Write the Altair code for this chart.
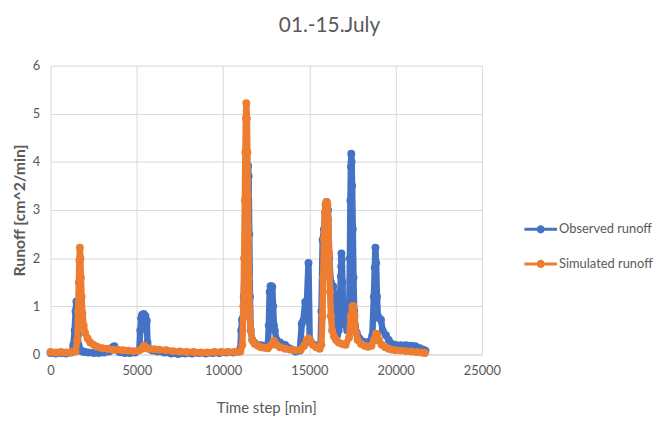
import altair as alt
import pandas as pd

# Observed runoff (time step [min], runoff [cm^2/min])
observed = [
    (0, 0.03), (300, 0.02), (600, 0.03), (900, 0.02), (1200, 0.04), (1320, 0.2),
    (1400, 0.5), (1450, 0.9), (1500, 1.1), (1540, 0.8), (1580, 0.4), (1620, 0.2),
    (1680, 0.12), (1750, 0.08), (1850, 0.06), (2000, 0.05), (2200, 0.04), (2500, 0.03),
    (2800, 0.03), (3100, 0.04), (3400, 0.06), (3600, 0.15), (3700, 0.17), (3800, 0.1),
    (4000, 0.05), (4300, 0.03), (4600, 0.03), (4900, 0.04), (5150, 0.1), (5200, 0.5),
    (5250, 0.75), (5300, 0.82), (5400, 0.84), (5500, 0.8), (5580, 0.7), (5620, 0.25),
    (5700, 0.12), (5900, 0.08), (6200, 0.06), (6600, 0.04), (7000, 0.02), (7400, 0.01),
    (7800, 0.02), (8200, 0.02), (8600, 0.03), (9000, 0.02), (9400, 0.03), (9800, 0.03),
    (10200, 0.04), (10600, 0.04), (10900, 0.06), (11000, 0.12), (11050, 0.5), (11100, 0.72),
    (11150, 0.75), (11200, 1.2), (11300, 2.5), (11400, 3.6), (11450, 3.92), (11480, 3.7),
    (11520, 2.5), (11560, 1.2), (11600, 0.5), (11700, 0.3), (11800, 0.25), (12000, 0.2),
    (12200, 0.19), (12400, 0.18), (12600, 0.2), (12650, 0.6), (12700, 1.3), (12750, 1.42),
    (12800, 1.42), (12850, 1.4), (12900, 1.0), (12950, 0.6), (13000, 0.5), (13100, 0.3),
    (13300, 0.25), (13600, 0.2), (13900, 0.12), (14200, 0.06), (14450, 0.08), (14560, 0.64),
    (14650, 0.7), (14760, 1.09), (14850, 1.0), (14950, 1.9), (15020, 0.3), (15100, 0.25),
    (15300, 0.2), (15500, 0.15), (15650, 0.2), (15700, 0.9), (15770, 2.38), (15850, 2.6),
    (15950, 3.1), (16000, 3.17), (16080, 3.0), (16150, 2.0), (16250, 1.5), (16380, 1.42),
    (16450, 1.2), (16530, 0.88), (16610, 0.4), (16700, 0.5), (16780, 1.2), (16830, 1.62),
    (16850, 1.83), (16860, 2.1), (16880, 1.98), (16920, 1.5), (16960, 0.9), (17000, 0.68),
    (17100, 0.6), (17200, 0.5), (17300, 0.6), (17350, 2.0), (17380, 3.2), (17410, 3.9),
    (17430, 4.17), (17450, 4.0), (17480, 3.5), (17520, 2.6), (17560, 1.6), (17600, 0.9),
    (17650, 0.6), (17750, 0.45), (17900, 0.33), (18100, 0.27), (18300, 0.25), (18500, 0.27),
    (18650, 0.4), (18740, 1.2), (18790, 1.8), (18830, 2.22), (18870, 1.9), (18920, 1.2),
    (18970, 0.8), (19050, 0.75), (19150, 0.72), (19250, 0.5), (19440, 0.4), (19600, 0.3),
    (19800, 0.22), (20000, 0.2), (20300, 0.19), (20600, 0.19), (20900, 0.18), (21150, 0.17),
    (21400, 0.13), (21600, 0.1), (21730, 0.08),
]

# Simulated runoff (time step [min], runoff [cm^2/min])
simulated = [
    (0, 0.05), (300, 0.04), (600, 0.05), (900, 0.04), (1200, 0.05), (1450, 0.06),
    (1550, 0.3), (1600, 0.9), (1640, 1.5), (1670, 1.95), (1700, 2.22), (1730, 2.0),
    (1760, 1.6), (1800, 1.2), (1850, 0.85), (1920, 0.6), (2000, 0.45), (2150, 0.33),
    (2300, 0.25), (2500, 0.2), (2700, 0.16), (3000, 0.13), (3300, 0.12), (3600, 0.1),
    (3900, 0.1), (4200, 0.09), (4500, 0.08), (4800, 0.07), (5100, 0.08), (5300, 0.12),
    (5420, 0.18), (5550, 0.14), (5700, 0.12), (6000, 0.11), (6300, 0.1), (6700, 0.09),
    (7100, 0.07), (7500, 0.06), (7900, 0.05), (8300, 0.05), (8700, 0.04), (9100, 0.04),
    (9500, 0.05), (9900, 0.05), (10300, 0.05), (10700, 0.05), (11000, 0.06), (11120, 0.2),
    (11180, 1.0), (11220, 2.0), (11260, 3.2), (11290, 4.2), (11320, 4.9), (11350, 5.22),
    (11380, 4.9), (11410, 4.2), (11440, 3.3), (11470, 2.4), (11500, 1.6), (11540, 0.9),
    (11600, 0.5), (11700, 0.3), (11850, 0.22), (12000, 0.18), (12200, 0.15), (12400, 0.14),
    (12600, 0.13), (12800, 0.2), (12940, 0.28), (13100, 0.2), (13300, 0.15), (13600, 0.12),
    (13900, 0.1), (14200, 0.09), (14500, 0.1), (14700, 0.18), (14850, 0.3), (14950, 0.33),
    (15050, 0.28), (15200, 0.2), (15400, 0.15), (15600, 0.12), (15700, 0.2), (15760, 0.8),
    (15800, 1.6), (15850, 2.4), (15900, 2.95), (15950, 3.12), (16000, 3.17), (16050, 3.1),
    (16100, 2.8), (16150, 2.1), (16200, 1.3), (16250, 0.8), (16320, 0.5), (16420, 0.38),
    (16550, 0.3), (16700, 0.25), (16900, 0.22), (17100, 0.2), (17300, 0.35), (17400, 0.8),
    (17500, 1.0), (17560, 1.0), (17620, 0.8), (17700, 0.45), (17800, 0.3), (18000, 0.22),
    (18200, 0.18), (18400, 0.16), (18600, 0.18), (18750, 0.3), (18860, 0.43), (18950, 0.4),
    (19050, 0.28), (19200, 0.2), (19400, 0.15), (19600, 0.12), (19800, 0.1), (20000, 0.09),
    (20300, 0.08), (20600, 0.07), (20900, 0.06), (21200, 0.05), (21500, 0.04), (21700, 0.03),
]

series_names = ["Observed runoff", "Simulated runoff"]
series_colors = ["#4472C4", "#ED7D31"]
x_ticks = [0, 5000, 10000, 15000, 20000, 25000]
y_ticks = [0, 1, 2, 3, 4, 5, 6]

rows = []
for name, pts in zip(series_names, [observed, simulated]):
    for t, v in pts:
        rows.append({"t": t, "v": v, "series": name})
df = pd.DataFrame(rows)

FONT = "Lato"
GREY = "#595959"
GRID = "#D9D9D9"

legend_path = ("M-1,-0.09H1V0.09H-1Z "
               "M0.25,0A0.25,0.25 0 1,1 -0.25,0A0.25,0.25 0 1,1 0.25,0Z")

color = alt.Color(
    "series:N",
    scale=alt.Scale(domain=series_names, range=series_colors),
    legend=alt.Legend(
        title=None, orient="none", legendX=479, legendY=149,
        symbolType=legend_path, symbolSize=1089, symbolStrokeWidth=0,
        labelFont=FONT, labelFontSize=13, labelColor=GREY,
        rowPadding=11, labelOffset=2,
    ),
)

x = alt.X("t:Q", scale=alt.Scale(domain=[0, 25000], nice=False),
          axis=alt.Axis(values=x_ticks, format="d", title="Time step [min]",
                        grid=True, gridColor=GRID, domainColor=GRID, ticks=False,
                        labelFlush=False, labelPadding=10, titlePadding=24,
                        labelFont=FONT, labelFontSize=13, labelColor=GREY,
                        titleFont=FONT, titleFontSize=15, titleColor=GREY,
                        titleFontWeight="normal"))
y = alt.Y("v:Q", scale=alt.Scale(domain=[0, 6], nice=False),
          axis=alt.Axis(values=y_ticks, title="Runoff [cm^2/min]",
                        grid=True, gridColor=GRID, domain=False, ticks=False,
                        labelFlush=False, labelPadding=11, titlePadding=5,
                        labelFont=FONT, labelFontSize=13, labelColor=GREY,
                        titleFont=FONT, titleFontSize=16, titleColor=GREY,
                        titleFontWeight="bold"))

base = alt.Chart(df)
layers = []
for name in series_names:
    sub = base.transform_filter(alt.datum.series == name)
    layers.append(sub.mark_line(strokeWidth=6.5, strokeJoin="round", strokeCap="round")
                  .encode(x=x, y=y, color=color, order="t:Q"))
    layers.append(sub.mark_point(filled=True, size=64, opacity=1)
                  .encode(x=x, y=y, color=color))

chart = alt.layer(*layers).properties(
    width=436, height=292,
    padding={"left": 43, "top": 56, "right": 175, "bottom": 62},
    autosize=alt.AutoSizeParams(type="none"),
    title=alt.TitleParams("01.-15.July", font=FONT, fontSize=21, color=GREY,
                          fontWeight="normal", anchor="middle", dx=64, offset=24),
).configure_view(stroke=None)

chart.save("out.html", embed_options={"renderer": "svg", "actions": False})
